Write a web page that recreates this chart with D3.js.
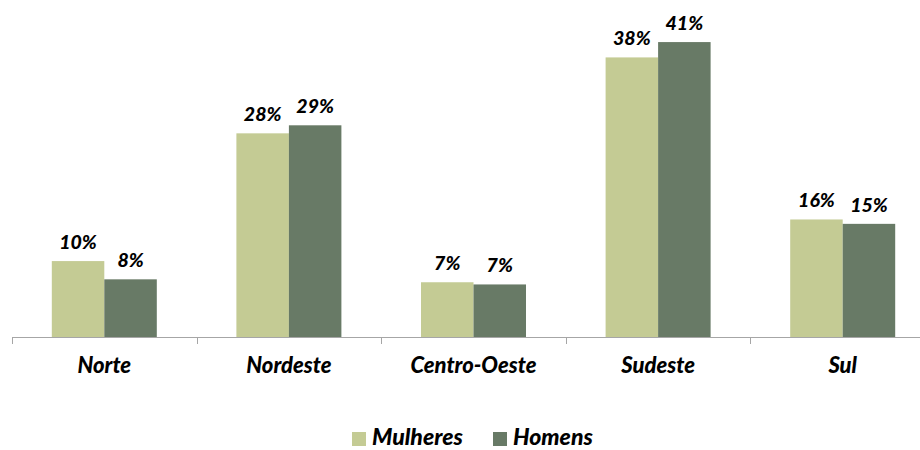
<!DOCTYPE html>
<html>
<head>
<meta charset="utf-8">
<script src="https://cdn.jsdelivr.net/npm/d3@7"></script>
<style>
  body { margin: 0; background: #fff; }
  text { font-family: Lato, "Open Sans", sans-serif; font-style: italic; font-weight: 900; }
</style>
</head>
<body>
<div id="holder"></div>
<script>
// data
var regions = ["Norte", "Nordeste", "Centro-Oeste", "Sudeste", "Sul"];
var series = ["Mulheres", "Homens"];
var mulheres = [10.4, 27.9, 7.5, 38.3, 16.1];
var homens = [7.9, 29.0, 7.2, 40.4, 15.5];
var labelsM = ["10%", "28%", "7%", "38%", "16%"];
var labelsH = ["8%", "29%", "7%", "41%", "15%"];

var colors = {Mulheres: "#c4cb94", Homens: "#687a66"};

var width = 920, height = 450;

var svg = d3.select("#holder")
            .append("svg")
            .attr("width", width)
            .attr("height", height);

// x scales
var x0 = d3.scaleBand()
           .domain(regions)
           .range([12, 935])
           .padding(0);
var step = x0.bandwidth();
var x1 = d3.scaleBand()
           .domain(series)
           .range([(step - 105) / 2, (step + 105) / 2])
           .padding(0);

var y = d3.scaleLinear()
          .domain([0, 45])
          .range([337, 8.5]);

var rows = regions.map(function(r, i) {
  return {
    region: r,
    vals: [
      {s: "Mulheres", v: mulheres[i], lab: labelsM[i]},
      {s: "Homens", v: homens[i], lab: labelsH[i]}
    ]
  };
});

var groups = svg.append("g")
  .selectAll("g")
  .data(rows)
  .enter()
  .append("g")
  .attr("transform", function(d) { return "translate(" + x0(d.region) + ",0)"; });

groups.selectAll("rect")
  .data(function(d) { return d.vals; })
  .enter()
  .append("rect")
  .attr("x", function(d) { return x1(d.s); })
  .attr("width", x1.bandwidth())
  .attr("y", function(d) { return y(d.v); })
  .attr("height", function(d) { return y(0) - y(d.v); })
  .attr("fill", function(d) { return colors[d.s]; });

groups.selectAll("text")
  .data(function(d) { return d.vals; })
  .enter()
  .append("text")
  .attr("x", function(d) { return x1(d.s) + x1.bandwidth() / 2; })
  .attr("y", function(d) { return y(d.v) - 12; })
  .attr("text-anchor", "middle")
  .attr("font-size", "19.5px")
  .attr("fill", "#000")
  .text(function(d) { return d.lab; });

// axis line with ticks between categories
var xAxis = svg.append("g");
xAxis.append("line")
  .attr("x1", 12).attr("x2", 935)
  .attr("y1", 337.5).attr("y2", 337.5)
  .attr("stroke", "#a6a6a6")
  .attr("stroke-width", 1);

xAxis.selectAll(".tick")
  .data(regions.concat(["end"]))
  .enter()
  .append("line")
  .attr("class", "tick")
  .attr("x1", function(d, i) { return Math.round(12 + i * step) + 0.5; })
  .attr("x2", function(d, i) { return Math.round(12 + i * step) + 0.5; })
  .attr("y1", 337)
  .attr("y2", 344)
  .attr("stroke", "#a6a6a6");

xAxis.selectAll(".cat")
  .data(regions)
  .enter()
  .append("text")
  .attr("class", "cat")
  .attr("x", function(d) { return x0(d) + step / 2; })
  .attr("y", 373)
  .attr("text-anchor", "middle")
  .attr("font-size", "22px")
  .attr("fill", "#000")
  .text(function(d) { return d; });

// legend
var legendPos = [352, 493];
var legend = svg.append("g")
  .selectAll("g")
  .data(series)
  .enter()
  .append("g")
  .attr("transform", function(d, i) { return "translate(" + legendPos[i] + ",0)"; });

legend.append("rect")
  .attr("x", 0).attr("y", 432)
  .attr("width", 14).attr("height", 14)
  .attr("fill", function(d) { return colors[d]; });

legend.append("text")
  .attr("x", 20).attr("y", 445)
  .attr("font-size", "23px")
  .attr("fill", "#000")
  .text(function(d) { return d; });
</script>
</body>
</html>
